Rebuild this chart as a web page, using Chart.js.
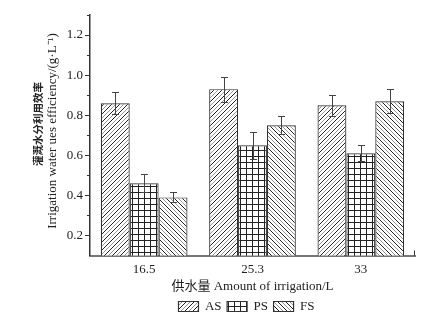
<!DOCTYPE html>
<html>
<head>
<meta charset="utf-8">
<script src="https://cdn.jsdelivr.net/npm/chart.js@4"></script>
<style>
    html, body { margin: 0; padding: 0; background: #fff; }
    #wrap { width: 437px; height: 323px; }
</style>
</head>
<body>
<div id="wrap"><canvas id="chart" width="437" height="323"></canvas></div>
<script>
const categories = ['16.5', '25.3', '33'];
const seriesNames = ['AS', 'PS', 'FS'];
const asValues = [0.86, 0.93, 0.85];
const asErrors = [0.055, 0.063, 0.052];
const psValues = [0.46, 0.65, 0.61];
const psErrors = [0.045, 0.068, 0.039];
const fsValues = [0.39, 0.75, 0.87];
const fsErrors = [0.025, 0.044, 0.060];
const yTicks = [0.2, 0.4, 0.6, 0.8, 1.0, 1.2];
const yMinorTicks = [0.3, 0.5, 0.7, 0.9, 1.1, 1.3];

const yTitleZh = '灌溉水分利用效率';
const yTitleEn = 'Irrigation water ues efficiency/(g·L⁻¹)';
const xTitle = '供水量 Amount of irrigation/L';

const serif = "'Liberation Serif', 'Noto Sans CJK SC', serif";

// hatch patterns, like the origin figure
function makeHatch(dir) {
    const c = document.createElement('canvas');
    c.width = 8;
    c.height = 8;
    const g = c.getContext('2d');
    g.fillStyle = '#fff';
    g.fillRect(0, 0, 8, 8);
    g.lineWidth = 1;
    for (let k = -2; k <= 4; k++) {
        const off = k * 4;
        g.strokeStyle = (k % 2 === 0) ? '#222' : '#999';
        g.beginPath();
        if (dir === '/') {
            g.moveTo(-2, off + 2);
            g.lineTo(off + 2, -2);
        } else {
            g.moveTo(off - 2, -2);
            g.lineTo(off + 10, 10);
        }
        g.stroke();
    }
    return g.createPattern(c, 'repeat');
}

function makeGrid() {
    const c = document.createElement('canvas');
    c.width = 6;
    c.height = 6;
    const g = c.getContext('2d');
    g.fillStyle = '#fff';
    g.fillRect(0, 0, 6, 6);
    g.strokeStyle = '#222';
    g.lineWidth = 1;
    g.beginPath();
    g.moveTo(0.5, 0);
    g.lineTo(0.5, 6);
    g.moveTo(0, 0.5);
    g.lineTo(6, 0.5);
    g.stroke();
    return g.createPattern(c, 'repeat');
}

const errorBars = {
    id: 'errorBars',
    afterDatasetsDraw(chart) {
        const ctx = chart.ctx;
        const y = chart.scales.y;
        ctx.save();
        ctx.strokeStyle = '#444';
        ctx.lineWidth = 1;
        chart.data.datasets.forEach((ds, i) => {
            chart.getDatasetMeta(i).data.forEach((bar, j) => {
                const v = ds.data[j];
                const e = ds.errors[j];
                const px = Math.round(bar.x) + 0.5;
                const top = Math.round(y.getPixelForValue(v + e)) + 0.5;
                const bot = Math.round(y.getPixelForValue(v - e)) + 0.5;
                ctx.beginPath();
                ctx.moveTo(px, top);
                ctx.lineTo(px, bot);
                ctx.moveTo(px - 3.5, top);
                ctx.lineTo(px + 3.5, top);
                ctx.moveTo(px - 3.5, bot);
                ctx.lineTo(px + 3.5, bot);
                ctx.stroke();
            });
        });
        ctx.restore();
    }
};

const axisExtras = {
    id: 'axisExtras',
    afterLayout(chart) {
        // legend sits under the plot, not the canvas centre
        const lg = chart.legend;
        lg.left += 39;
        lg.right += 39;
    },
    afterDraw(chart) {
        const ctx = chart.ctx;
        const y = chart.scales.y;
        const x = chart.scales.x;
        ctx.save();
        ctx.strokeStyle = '#333';
        ctx.lineWidth = 1;
        ctx.beginPath();
        yMinorTicks.forEach(v => {
            const py = Math.round(y.getPixelForValue(v)) + 0.5;
            ctx.moveTo(y.right - 3, py);
            ctx.lineTo(y.right, py);
        });
        ctx.moveTo(x.right - 0.5, x.top);
        ctx.lineTo(x.right - 0.5, x.top - 5);
        ctx.stroke();

        ctx.fillStyle = '#222';
        ctx.textAlign = 'center';
        ctx.textBaseline = 'middle';
        ctx.save();
        ctx.translate(38, 124);
        ctx.rotate(-Math.PI / 2);
        ctx.font = "bold 10.5px 'Noto Sans CJK SC'";
        ctx.fillText(yTitleZh, 0, 0);
        ctx.restore();
        ctx.translate(53, 131);
        ctx.rotate(-Math.PI / 2);
        ctx.font = '13px ' + serif;
        ctx.fillText(yTitleEn, 0, 0);
        ctx.restore();
    }
};

const patterns = [makeHatch('/'), makeGrid(), makeHatch('\\')];
const values = [asValues, psValues, fsValues];
const errors = [asErrors, psErrors, fsErrors];

new Chart(document.getElementById('chart'), {
    type: 'bar',
    data: {
        labels: categories,
        datasets: seriesNames.map((name, i) => ({
            label: name,
            data: values[i],
            errors: errors[i],
            backgroundColor: patterns[i],
            borderColor: '#333',
            borderWidth: 1.2,
            categoryPercentage: 0.8,
            barPercentage: 1.0
        }))
    },
    plugins: [errorBars, axisExtras],
    options: {
        responsive: false,
        animation: false,
        events: [],
        layout: { padding: { top: 15, right: 22, left: 0, bottom: 0 } },
        plugins: {
            legend: {
                position: 'bottom',
                labels: {
                    boxWidth: 20,
                    boxHeight: 10,
                    padding: 5.5,
                    color: '#222',
                    font: { family: serif, size: 13 }
                }
            },
            tooltip: { enabled: false }
        },
        scales: {
            x: {
                grid: { display: false, drawTicks: false, tickLength: 0 },
                border: { display: true, color: '#777', width: 2 },
                ticks: { color: '#222', padding: 6, font: { family: serif, size: 13 } },
                title: {
                    display: true,
                    text: xTitle,
                    color: '#222',
                    padding: 0,
                    font: { family: serif, size: 13 }
                },
                afterFit(scale) { scale.height = 39; }
            },
            y: {
                min: 0.1,
                max: 1.3,
                afterBuildTicks(scale) {
                    scale.ticks = yTicks.map(v => ({ value: v }));
                },
                grid: { drawOnChartArea: false, tickLength: 5, color: '#333' },
                border: { display: true, color: '#333', width: 1.5 },
                ticks: {
                    color: '#222',
                    padding: 2,
                    font: { family: serif, size: 13 },
                    callback: v => v.toFixed(1)
                },
                afterFit(scale) { scale.width = 90; }
            }
        }
    }
});
</script>
</body>
</html>
